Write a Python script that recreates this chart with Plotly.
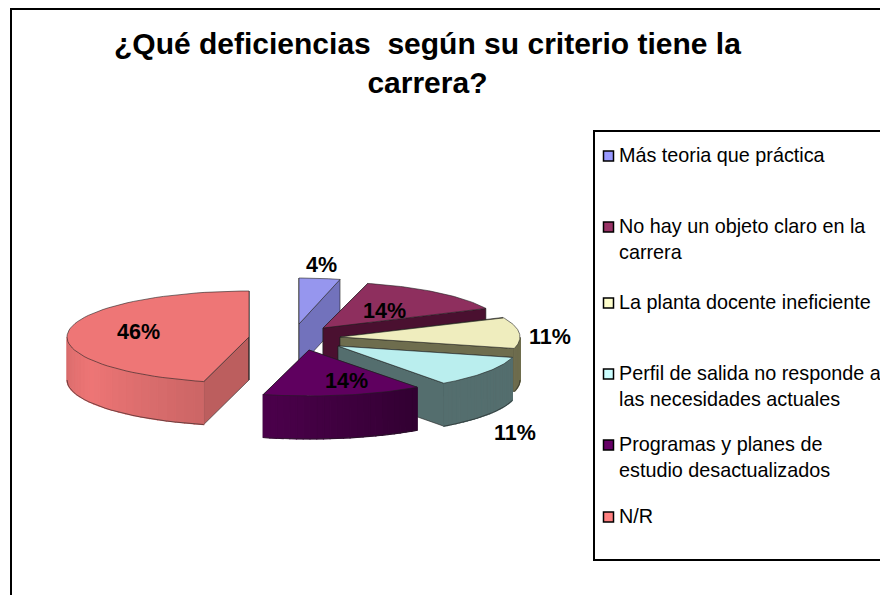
import numpy as np
import plotly.graph_objects as go

categories = ["Más teoria que práctica", "No hay un objeto claro en la<br>carrera",
              "La planta docente ineficiente", "Perfil de salida no responde a<br>las necesidades actuales",
              "Programas y planes de<br>estudio desactualizados", "N/R"]
values = [4, 14, 11, 11, 14, 46]
value_labels = ["4%", "14%", "11%", "11%", "14%", "46%"]
top_colors = ["#9696EE", "#8E2F5E", "#EFEDBE", "#BAEEEE", "#5F005F", "#EE7676"]
wall_colors = ["#7272BC", "#4A1030", "#6E6D4E", "#546E6E", "#3C003C", "#BC5E5E"]
legend_colors = ["#9999FF", "#993366", "#FFFFCC", "#CCFFFF", "#660066", "#FF8080"]

# layout (pixels of the 880x595 canvas)
radii_x = [165, 180, 180, 180, 184, 182]
RY, DEPTH = 46, 43
apex = [(299, 324), (323, 328), (340, 337), (338, 346), (309, 350), (249, 337)]
label_xy = [(321, 265), (384, 311), (550, 337), (515, 433), (346, 381), (138, 332)]
legend_y = [155, 226, 302, 373, 444, 516]
FONT = "Liberation Sans"

fig = go.Figure()


def poly(xs, ys, fill, line=True):
    fig.add_trace(go.Scatter(
        x=list(xs) + [xs[0]], y=list(ys) + [ys[0]], mode="lines", fill="toself", fillcolor=fill,
        line=dict(color="rgba(30,30,30,0.65)" if line else fill, width=0.9 if line else 1.2),
        hoverinfo="skip", showlegend=False))


def hex2rgb(h):
    return np.array([int(h[i:i + 2], 16) for i in (1, 3, 5)], float)


def mix(a, b, t):
    c = hex2rgb(a) * (1 - t) + hex2rgb(b) * t
    return "rgb(%d,%d,%d)" % tuple(c)


def rim(ax, ay, rad, th):
    return ax + rad * np.sin(th), ay - RY * np.cos(th)


edges = np.radians(np.cumsum([0] + values) * 3.6)
order = [0, 1, 2, 3, 5, 4]  # back to front
for i in order:
    ax, ay = apex[i]
    rad = radii_x[i]
    a0, a1 = edges[i], edges[i + 1]
    for a in (a0, a1):
        rx, ry = rim(ax, ay, rad, a)
        poly([ax, rx, rx, ax], [ay, ry, ry + DEPTH, ay + DEPTH], wall_colors[i])
    # rim wall, only the part that faces the viewer
    lo, hi = max(a0, np.pi / 2), min(a1, 3 * np.pi / 2)
    if hi > lo:
        n = 24
        th = np.linspace(lo, hi, n + 1)
        for k in range(n):
            u = (k + 0.5) / n
            if i == 5:
                col = mix("#EE7676", "#CC6666", min(1, abs(u - 0.6) / 0.6))
            elif i == 4:
                col = mix("#320032", "#4C004C", u)
            else:
                col = wall_colors[i]
            x0, y0 = rim(ax, ay, rad, th[k])
            x1, y1 = rim(ax, ay, rad, th[k + 1])
            poly([x0, x1, x1, x0], [y0, y1, y1 + DEPTH, y0 + DEPTH], col, line=False)
        xs, ys = rim(ax, ay, rad, th)
        fig.add_trace(go.Scatter(x=xs, y=ys + DEPTH, mode="lines", hoverinfo="skip", showlegend=False,
                                 line=dict(color="rgba(30,30,30,0.65)", width=0.9)))
    th = np.linspace(a0, a1, 60)
    xs, ys = rim(ax, ay, rad, th)
    poly([ax] + list(xs), [ay] + list(ys), top_colors[i])

ann = []
for t, (x, y) in zip(value_labels, label_xy):
    ann.append(dict(x=x, y=y, text="<b>%s</b>" % t, showarrow=False, xanchor="center", yanchor="middle",
                    font=dict(family=FONT, size=21.5, color="black")))

shapes = [
    dict(type="line", x0=10, x1=880, y0=9, y1=9, line=dict(color="black", width=2)),
    dict(type="line", x0=11, x1=11, y0=9, y1=595, line=dict(color="black", width=2)),
    dict(type="rect", x0=594, x1=900, y0=131, y1=560, line=dict(color="black", width=2)),
]
for name, col, y in zip(categories, legend_colors, legend_y):
    ann.append(dict(x=617, y=y - 13, text=name, showarrow=False, xanchor="left", yanchor="top", align="left",
                    font=dict(family=FONT, size=19.8, color="black")))
    shapes.append(dict(type="rect", x0=603.5, x1=613.5, y0=y - 4, y1=y + 6, fillcolor=col,
                       line=dict(color="black", width=1.5)))
ann.append(dict(x=427, y=62.5, text="<b>¿Qué deficiencias  según su criterio tiene la<br>carrera?</b>",
                showarrow=False, xanchor="center", yanchor="middle", align="center",
                font=dict(family=FONT, size=30, color="black")))

fig.update_layout(width=880, height=595, margin=dict(l=0, r=0, t=0, b=0), paper_bgcolor="white",
                  plot_bgcolor="white", showlegend=False, annotations=ann, shapes=shapes,
                  xaxis=dict(range=[0, 880], visible=False, fixedrange=True),
                  yaxis=dict(range=[595, 0], visible=False, fixedrange=True))
fig.write_html("out.html", config=dict(displayModeBar=False),
               post_script="document.body.style.margin='0';document.body.style.overflow='hidden';")
